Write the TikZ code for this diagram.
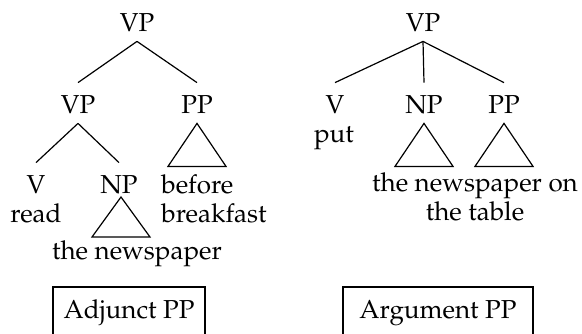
\documentclass[tikz,border=0pt]{standalone}
\usepackage[T1]{fontenc}
\usepackage{mathpazo}
\usetikzlibrary{calc}
\begin{document}
\begin{tikzpicture}[x=0.5pt,y=-0.5pt,
  fnt/.style={font=\fontsize{13}{14.5}\selectfont},
  lab/.style={fnt, inner sep=0pt, anchor=base, text height=15pt, text depth=5pt},
  txt/.style={fnt, inner sep=0pt, anchor=base},
  edge/.style={line width=0.6pt},
  tri/.style={line width=0.6pt, line join=miter},
  boxnode/.style={fnt, draw, line width=0.6pt, inner xsep=0pt, inner ysep=0pt, anchor=base, text height=15.5pt, text depth=20pt}]
\useasboundingbox (0,0) rectangle (582,333);
% left tree
\node[lab] (lvp) at (137,31) {VP};
\node[lab] (lvp2) at (78,113) {VP};
\node[lab] (lpp) at (197,113) {PP};
\node[lab] (lv) at (36,193) {V};
\node[txt] (lread) at (36,222) {read};
\node[lab] (lnp) at (119,193) {NP};
\node[txt, anchor=base west] (lbefore) at (161,193) {before};
\node[txt, anchor=base west] (lbreak) at (161,222) {breakfast};
\node[txt] (lnews) at (137,259) {the newspaper};
\draw[edge] (lvp.south) -- (lvp2.north);
\draw[edge] (lvp.south) -- (lpp.north);
\draw[edge] (lvp2.south) -- (lv.north);
\draw[edge] (lvp2.south) -- (lnp.north);
\draw[tri] ($(lnp.base)+(2,4)$) -- ++(-29,40) -- ++(58,0) -- cycle;
\draw[tri] (lpp.south) -- ++(-29,43) -- ++(58,0) -- cycle;
% right tree
\node[lab] (rvp) at (423,31) {VP};
\node[lab] (rv) at (335,113) {V};
\node[txt] (rput) at (334,142) {put};
\node[lab] (rnp) at (424,113) {NP};
\node[lab] (rpp) at (504,113) {PP};
\node[txt] (rt1) at (475,191) {the newspaper on};
\node[txt] (rt2) at (475,220) {the table};
\draw[edge] (rvp.south) -- (rv.north);
\draw[edge] (rvp.south) -- (rnp.north);
\draw[edge] (rvp.south) -- (rpp.north);
\draw[tri] (rnp.south) -- ++(-29,43) -- ++(58,0) -- cycle;
\draw[tri] (rpp.south) -- ++(-29,43) -- ++(58,0) -- cycle;
% boxes
\node[boxnode, minimum width=76pt] (adj) at (129,318) {Adjunct PP};
\node[boxnode, minimum width=95pt] (arg) at (438,318) {Argument PP};
\end{tikzpicture}
\end{document}
